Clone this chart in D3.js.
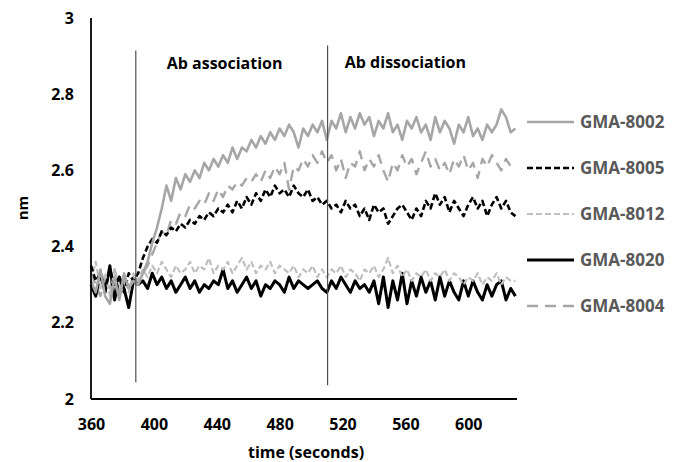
<!DOCTYPE html>
<html>
<head>
<meta charset="utf-8">
<script src="https://cdn.jsdelivr.net/npm/d3@7"></script>
<style>
  body { margin: 0; background: #fff; }
  text { font-family: "Open Sans", "Noto Sans", sans-serif; font-weight: bold; }
  .axis-line { stroke: #000; stroke-width: 1.8; }
  .marker { stroke: #505050; stroke-width: 1.2; }
</style>
</head>
<body>
<div id="chart"></div>
<script>
// samples every 3 s from 360 to 630
var sampleTimes = d3.range(360, 631, 3);

var xTicks = [360, 400, 440, 480, 520, 560, 600];
var yTicks = [2, 2.2, 2.4, 2.6, 2.8, 3];

var seriesNames = ['GMA-8002', 'GMA-8005', 'GMA-8012', 'GMA-8020', 'GMA-8004'];

var gma8002 = [2.31, 2.28, 2.34, 2.27, 2.25, 2.32, 2.26, 2.33, 2.29, 2.31,
  2.30, 2.33, 2.36, 2.41, 2.45, 2.50, 2.56, 2.52, 2.58, 2.55,
  2.59, 2.57, 2.60, 2.58, 2.62, 2.60, 2.63, 2.61, 2.64, 2.62,
  2.66, 2.63, 2.66, 2.65, 2.68, 2.66, 2.69, 2.67, 2.70, 2.68,
  2.71, 2.69, 2.72, 2.70, 2.66, 2.71, 2.69, 2.72, 2.70, 2.73,
  2.68, 2.73, 2.71, 2.75, 2.70, 2.74, 2.71, 2.75, 2.72, 2.74,
  2.69, 2.73, 2.71, 2.75, 2.70, 2.72, 2.68, 2.73, 2.71, 2.74,
  2.70, 2.72, 2.68, 2.74, 2.70, 2.73, 2.71, 2.67, 2.72, 2.70,
  2.74, 2.69, 2.71, 2.68, 2.72, 2.70, 2.72, 2.76, 2.74, 2.70,
  2.71];

var gma8005 = [2.35, 2.31, 2.33, 2.29, 2.34, 2.30, 2.32, 2.28, 2.33, 2.31,
  2.33, 2.37, 2.40, 2.42, 2.41, 2.44, 2.43, 2.45, 2.44, 2.46,
  2.45, 2.47, 2.46, 2.48, 2.47, 2.49, 2.48, 2.50, 2.49, 2.51,
  2.49, 2.52, 2.50, 2.53, 2.51, 2.54, 2.52, 2.55, 2.53, 2.56,
  2.54, 2.55, 2.53, 2.56, 2.54, 2.53, 2.55, 2.52, 2.53, 2.51,
  2.52, 2.50, 2.51, 2.49, 2.52, 2.50, 2.51, 2.48, 2.50, 2.47,
  2.51, 2.49, 2.50, 2.46, 2.48, 2.50, 2.51, 2.49, 2.47, 2.50,
  2.48, 2.52, 2.50, 2.54, 2.51, 2.53, 2.49, 2.52, 2.50, 2.48,
  2.51, 2.53, 2.50, 2.52, 2.48, 2.51, 2.53, 2.50, 2.52, 2.49,
  2.48];

var gma8012 = [2.31, 2.36, 2.29, 2.33, 2.27, 2.34, 2.30, 2.32, 2.28, 2.33,
  2.31, 2.34, 2.32, 2.35, 2.33, 2.36, 2.34, 2.32, 2.35, 2.33,
  2.34, 2.36, 2.33, 2.35, 2.34, 2.37, 2.33, 2.35, 2.34, 2.36,
  2.33, 2.35, 2.37, 2.34, 2.36, 2.33, 2.35, 2.34, 2.36, 2.33,
  2.35, 2.34, 2.33, 2.35, 2.32, 2.34, 2.33, 2.35, 2.32, 2.34,
  2.32, 2.34, 2.33, 2.35, 2.32, 2.34, 2.33, 2.31, 2.34, 2.33,
  2.35, 2.32, 2.34, 2.37, 2.33, 2.35, 2.32, 2.34, 2.31, 2.33,
  2.32, 2.34, 2.31, 2.33, 2.32, 2.34, 2.31, 2.33, 2.32, 2.30,
  2.32, 2.31, 2.33, 2.30, 2.32, 2.31, 2.33, 2.30, 2.32, 2.31,
  2.31];

var gma8020 = [2.30, 2.27, 2.33, 2.28, 2.35, 2.26, 2.32, 2.29, 2.24, 2.31,
  2.30, 2.31, 2.29, 2.33, 2.30, 2.32, 2.29, 2.31, 2.28, 2.30,
  2.32, 2.29, 2.31, 2.28, 2.30, 2.29, 2.31, 2.30, 2.34, 2.29,
  2.31, 2.28, 2.30, 2.32, 2.29, 2.31, 2.27, 2.30, 2.29, 2.31,
  2.30, 2.28, 2.32, 2.29, 2.31, 2.30, 2.29, 2.30, 2.31, 2.29,
  2.28, 2.31, 2.29, 2.32, 2.30, 2.28, 2.31, 2.29, 2.30, 2.28,
  2.31, 2.25, 2.32, 2.24, 2.31, 2.26, 2.33, 2.25, 2.31, 2.27,
  2.32, 2.28, 2.31, 2.26, 2.32, 2.27, 2.31, 2.28, 2.26, 2.31,
  2.27, 2.31, 2.28, 2.26, 2.30, 2.27, 2.30, 2.31, 2.26, 2.29,
  2.27];

var gma8004 = [2.33, 2.30, 2.27, 2.32, 2.29, 2.34, 2.28, 2.31, 2.30, 2.32,
  2.31, 2.33, 2.35, 2.38, 2.41, 2.44, 2.43, 2.47, 2.46, 2.49,
  2.48, 2.51, 2.50, 2.52, 2.51, 2.54, 2.52, 2.55, 2.53, 2.56,
  2.55, 2.57, 2.56, 2.58, 2.57, 2.59, 2.57, 2.60, 2.58, 2.61,
  2.59, 2.62, 2.55, 2.61, 2.60, 2.63, 2.61, 2.64, 2.62, 2.65,
  2.62, 2.64, 2.60, 2.63, 2.58, 2.62, 2.61, 2.65, 2.60, 2.63,
  2.61, 2.64, 2.60, 2.57, 2.62, 2.60, 2.64, 2.61, 2.63, 2.59,
  2.62, 2.65, 2.61, 2.63, 2.60, 2.62, 2.59, 2.63, 2.61, 2.64,
  2.60, 2.62, 2.58, 2.63, 2.61, 2.64, 2.62, 2.60, 2.63, 2.61,
  2.62];

// phase markers and their captions
var phaseTimes = [388.5, 510.5];
var phaseLabels = ['Ab association', 'Ab dissociation'];
var phaseLabelTimes = [445, 560];

var seriesValues = [gma8002, gma8005, gma8012, gma8020, gma8004];

var width = 683, height = 462;

var svg = d3.select('#chart').append('svg')
    .attr('width', width)
    .attr('height', height);

var x = d3.scaleLinear()
        .domain([360, 631])
        .range([91, 517]),
    y = d3.scaleLinear()
        .domain([2, 3])
        .range([399, 18]),
    color = d3.scaleOrdinal()
        .domain(seriesNames)
        .range(['#a6a6a6', '#000000', '#bfbfbf', '#000000', '#a6a6a6']),
    dash = d3.scaleOrdinal()
        .domain(seriesNames)
        .range(['none', '6,3', '6,3', 'none', '11,7']),
    strokeW = d3.scaleOrdinal()
        .domain(seriesNames)
        .range([2.6, 2.6, 2.2, 3, 2.4]);

var series = seriesNames.map(function(name, i) {
  return { name: name, values: seriesValues[i].map(function(v, j) {
    return { t: sampleTimes[j], v: v };
  }) };
});

var line = d3.line()
    .x(function(d) { return x(d.t); })
    .y(function(d) { return y(d.v); });

// data lines, drawn in reverse so 8002 sits on top like the source
svg.selectAll('.series')
    .data(series.slice().reverse())
    .enter().append('path')
  .attr('class', 'series')
  .attr('d', function(d) { return line(d.values); })
  .style('fill', 'none')
  .style('stroke', function(d) { return color(d.name); })
  .style('stroke-width', function(d) { return strokeW(d.name); })
  .style('stroke-dasharray', function(d) { return dash(d.name); })
  .style('stroke-linejoin', 'round');

// phase marker lines
svg.selectAll('.marker')
    .data(phaseTimes)
    .enter().append('line')
  .attr('class', 'marker')
  .attr('x1', function(d) { return x(d); })
  .attr('x2', function(d) { return x(d); })
  .attr('y1', function(d, i) { return y(i ? 2.928 : 2.915); })
  .attr('y2', function(d, i) { return y(i ? 2.036 : 2.044); });

svg.selectAll('.phase-label')
    .data(phaseLabels)
    .enter().append('text')
  .attr('class', 'phase-label')
  .attr('x', function(d, i) { return x(phaseLabelTimes[i]); })
  .attr('y', function(d, i) { return i ? 68 : 69; })
  .attr('text-anchor', 'middle')
  .style('font-size', '16px')
  .style('fill', '#000')
  .text(function(d) { return d; });

// x axis
var xAxis = svg.append('g')
    .attr('transform', 'translate(0,399)')
    .call(d3.axisBottom(x).tickValues(xTicks).tickSize(0).tickPadding(20));
xAxis.select('.domain').remove();
xAxis.selectAll('text')
    .style('font-size', '16px')
    .style('fill', '#000')
    .style('font-family', '"Open Sans", sans-serif');

// y axis
var yAxis = svg.append('g')
    .attr('transform', 'translate(91,0)')
    .call(d3.axisLeft(y).tickValues(yTicks).tickSize(0).tickPadding(17)
      .tickFormat(function(d) { return d3.format('')(+d.toFixed(1)); }));
yAxis.select('.domain').remove();
yAxis.selectAll('text')
    .style('font-size', '16px')
    .style('fill', '#000')
    .style('font-family', '"Open Sans", sans-serif');

svg.append('line')
  .attr('class', 'axis-line')
  .attr('x1', x(360)).attr('x2', x(631))
  .attr('y1', y(2)).attr('y2', y(2));
svg.append('line')
  .attr('class', 'axis-line')
  .attr('x1', x(360)).attr('x2', x(360))
  .attr('y1', y(3)).attr('y2', y(2));

// axis titles
svg.append('text')
  .attr('x', 306)
  .attr('y', 458)
  .attr('text-anchor', 'middle')
  .style('font-size', '16px')
  .text('time (seconds)');

svg.append('text')
  .attr('transform', 'translate(28,208) rotate(-90)')
  .attr('text-anchor', 'middle')
  .style('font-size', '15px')
  .text('nm');

// legend
var legend = svg.selectAll('.legend')
    .data(seriesNames)
    .enter().append('g')
  .attr('class', 'legend')
  .attr('transform', function(d, i) { return 'translate(527,' + (122 + i * 46) + ')'; });

legend.append('line')
  .attr('x1', 0).attr('x2', 47)
  .style('stroke', function(d) { return color(d); })
  .style('stroke-width', function(d) { return strokeW(d); })
  .style('stroke-dasharray', function(d) { return dash(d); });

legend.append('text')
  .attr('x', 53)
  .attr('dy', '0.35em')
  .style('font-size', '17px')
  .style('fill', '#595959')
  .text(function(d) { return d; });
</script>
</body>
</html>
